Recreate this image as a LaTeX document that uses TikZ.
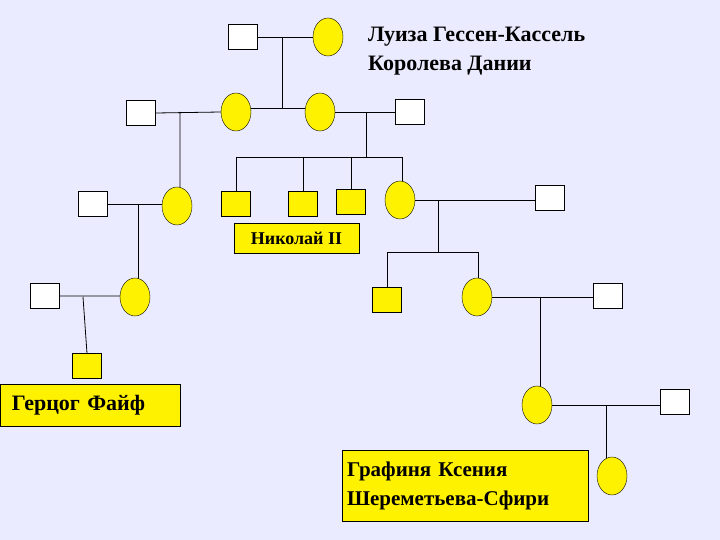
\documentclass[tikz,border=0pt]{standalone}
\usetikzlibrary{shapes.geometric}
\usepackage{fontspec}
\setmainfont{Liberation Serif}
\pgfdeclarelayer{bg}
\pgfsetlayers{bg,main}
\begin{document}
\begin{tikzpicture}[x=1pt,y=-1pt,
  m/.style={draw,fill=white,minimum width=29pt,minimum height=25pt,inner sep=0pt},
  mf/.style={m,fill=yellow},
  f/.style={draw,ellipse,fill=yellow,minimum width=30pt,minimum height=38pt,inner sep=0pt},
  lab/.style={draw,fill=yellow,inner sep=2pt,align=left},
  ln/.style={draw,line width=0.8pt}]
\begin{pgfonlayer}{bg}
\fill[blue!8!white] (0,0) rectangle (720,540);
\end{pgfonlayer}
\useasboundingbox (0,0) rectangle (720,540);
% row 1
\node[m] (a1) at (243,37) {};
\node[f] (a2) at (328,37) {};
\coordinate (j1) at (282,37);
\coordinate (b1) at (282,108);
\coordinate (b1l) at (236,108);
\coordinate (b1r) at (320,108);
% row 2
\node[m] (c1) at (141,113) {};
\node[f] (c2) at (236,112) {};
\node[f] (c3) at (320,112) {};
\node[m] (c4) at (410,112) {};
\coordinate (j2) at (180,112);
\coordinate (j3) at (366,112);
\coordinate (b3) at (366,157);
\coordinate (b3l) at (236,157);
\coordinate (b3r) at (402,157);
% row 3
\node[m] (d1) at (93,204) {};
\node[f] (d2) at (177,206) {};
\node[mf] (d3) at (236,204) {};
\node[mf] (d4) at (303,204) {};
\node[mf] (d5) at (351,202) {};
\node[f] (d6) at (400,200) {};
\node[m] (d7) at (550,198) {};
\coordinate (j4) at (138,204);
\coordinate (j5) at (438,204);
\coordinate (b5) at (438,252);
\coordinate (b5l) at (387,252);
\coordinate (b5r) at (478,252);
\node[lab,minimum width=125pt,minimum height=30pt,font=\fontsize{18}{22}\selectfont\bfseries] (nik) at (296.5,238) {Николай II};
% row 4
\node[m] (e1) at (45,296) {};
\node[f] (e2) at (135,297) {};
\node[mf] (e3) at (387,300) {};
\node[f] (e4) at (477,297) {};
\node[m] (e5) at (608,296) {};
\coordinate (j6) at (83,297);
\coordinate (j7) at (540,297);
\node[mf] (g1) at (87,366) {};
\node[lab,minimum width=180pt,minimum height=42pt,text width=156pt,font=\fontsize{22}{26}\selectfont\bfseries] (fife) at (90,405) {Герцог Файф};
% row 5
\node[f] (h1) at (537,405) {};
\node[m] (h2) at (675,402) {};
\coordinate (j8) at (606,405);
\node[f] (k1) at (612,476) {};
\node[lab,minimum width=246pt,minimum height=71pt,text width=236pt,font=\fontsize{21}{29}\selectfont\bfseries] (kse) at (465,485.5) {Графиня Ксения\\Шереметьева-Сфири};
\node[font=\fontsize{22}{29}\selectfont\bfseries,align=left,anchor=west,inner sep=0pt] (lu) at (368,51) {Луиза Гессен-Кассель\\Королева Дании};
% lines
\begin{pgfonlayer}{bg}
\draw[ln] (a1.east)--(a2.west) (j1)--(b1) (b1l)--(b1r) (b1l)--(c2.center) (b1r)--(c3.center);
\draw[ln] (c1.east)--(c2.west) (j2)--(j2|-d2.center);
\draw[ln] (c3.east)--(c4.west) (j3)--(b3) (b3l)--(b3r) (b3l)--(d3.north) (d4.north|-b3)--(d4.north) (d5.north|-b3)--(d5.north) (b3r)--(b3r|-d6.center);
\draw[ln] (d1.east)--(d2.west|-d1.east) (j4)--(j4|-e2);
\draw[ln] (d6.center)--(d7.west|-d6.center) (j5|-d6.center)--(b5) (b5l)--(b5r) (b5l)--(e3.north) (b5r)--(b5r|-e4.center);
\draw[ln] (e1.east)--(e2.west|-e1.east) (j6)--(g1.north);
\draw[ln] (e4.center)--(e5.west|-e4.center) (j7)--(j7|-h1.center);
\draw[ln] (h1.center)--(h2.west|-h1.center) (j8)--(j8|-k1.center);
\end{pgfonlayer}
\end{tikzpicture}
\end{document}
